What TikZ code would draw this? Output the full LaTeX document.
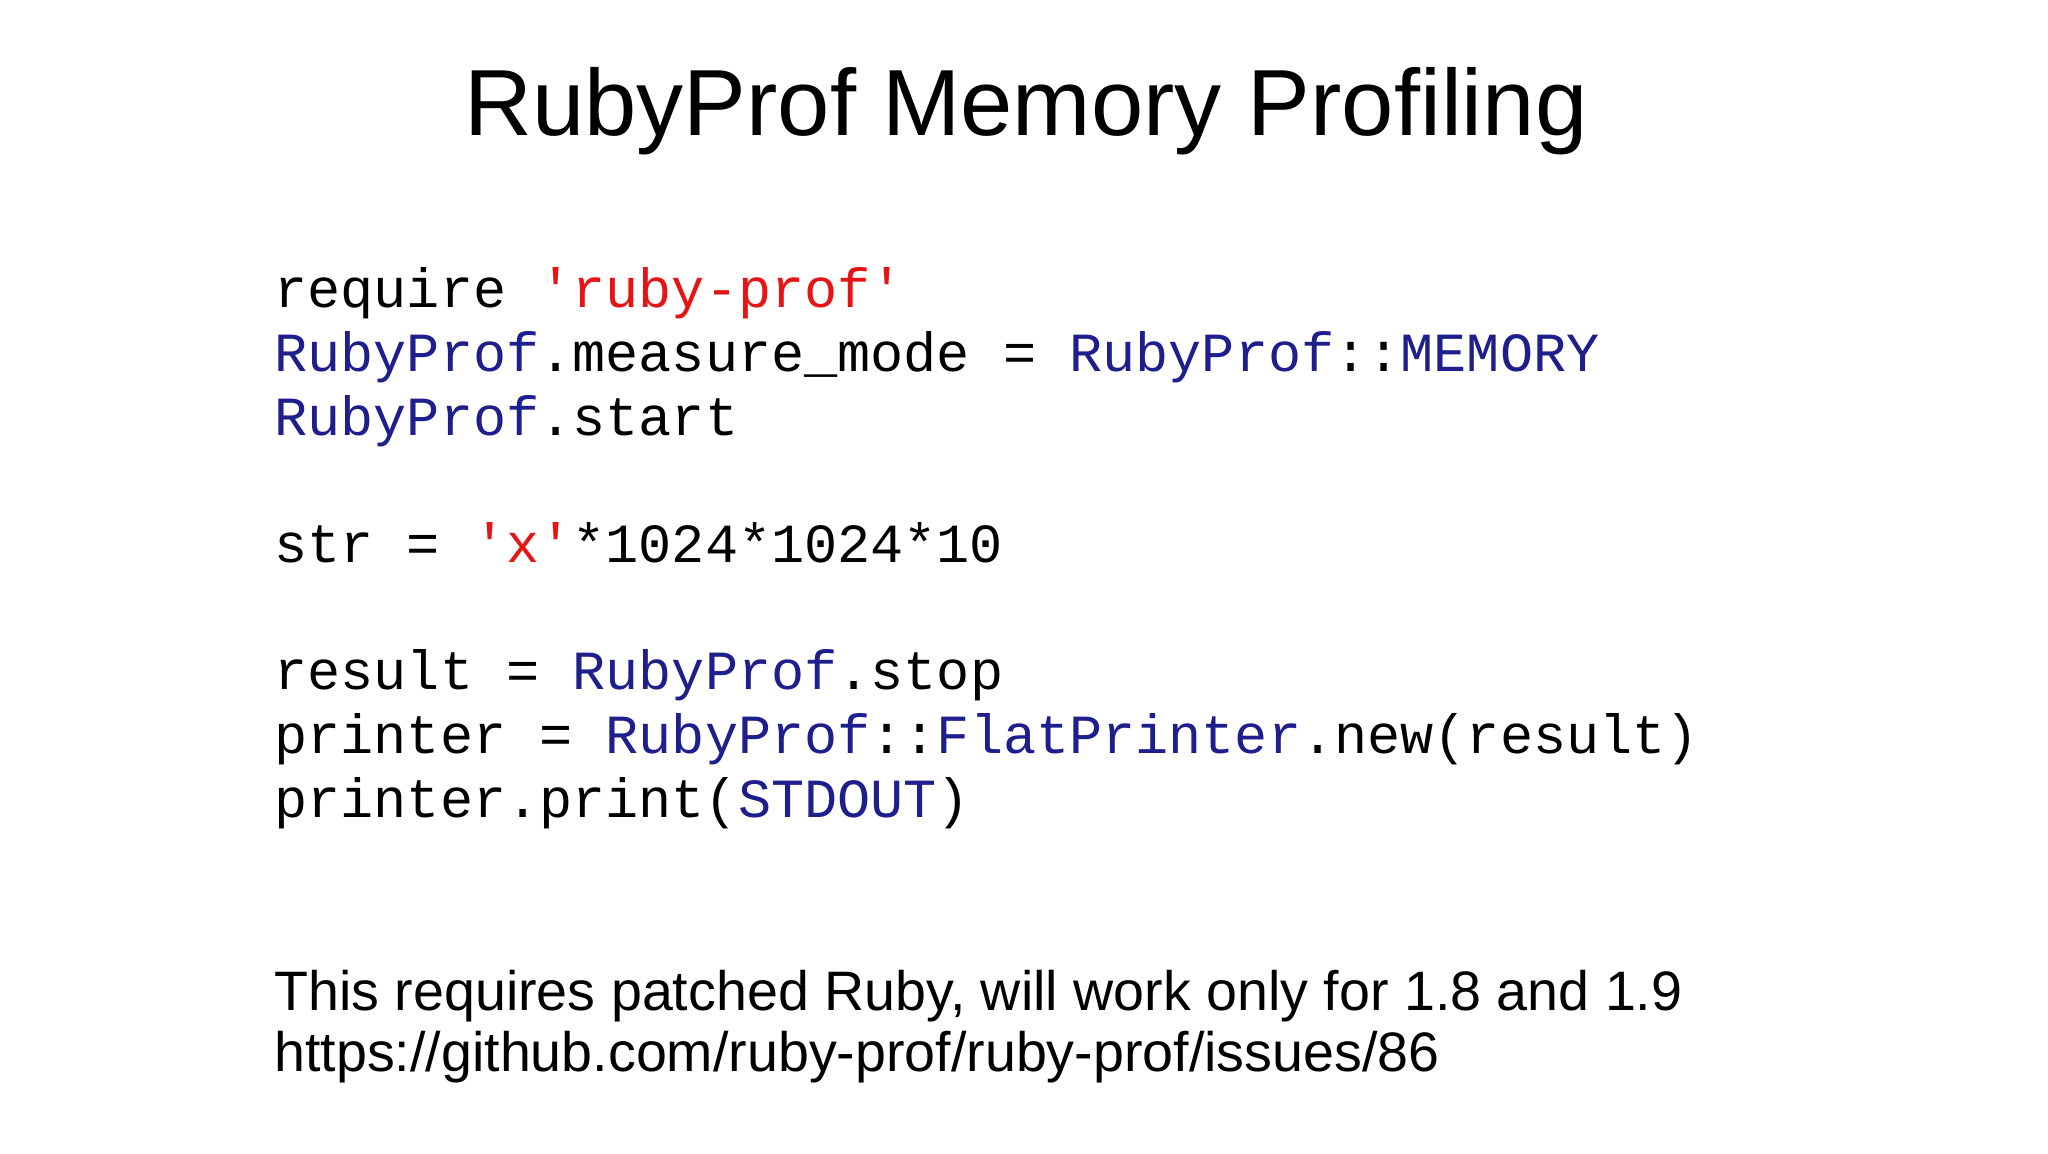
\documentclass[tikz,border=0pt]{standalone}
\usepackage{fontspec}
\setmainfont{Liberation Sans}
\newfontfamily\codefont{Liberation Mono}
\definecolor{cred}{RGB}{230,20,20}
\definecolor{cblue}{RGB}{30,30,140}
\newcommand{\R}[1]{\textcolor{cred}{#1}}
\newcommand{\B}[1]{\textcolor{cblue}{#1}}
\begin{document}
\begin{tikzpicture}[x=0.5pt,y=-0.5pt,
  code/.style={anchor=base west,inner sep=0pt,font=\codefont\fontsize{27.6pt}{30pt}\selectfont},
  body/.style={anchor=base west,inner sep=0pt,font=\fontsize{27.8pt}{32pt}\selectfont}]
\useasboundingbox[fill=white] (0,0) rectangle (2048,1154);
\node[anchor=base,inner sep=0pt,font=\fontsize{47pt}{50pt}\selectfont] (title) at (1026,136) {RubyProf Memory Profiling};
\node[code] (l1) at (274,308) {require \R{'ruby-prof'}};
\node[code] (l2) at (274,372) {\B{RubyProf}.measure\_mode = \B{RubyProf}::\B{MEMORY}};
\node[code] (l3) at (274,436) {\B{RubyProf}.start};
\node[code] (l4) at (274,562) {str = \R{'x'}*1024*1024*10};
\node[code] (l5) at (274,689) {result = \B{RubyProf}.stop};
\node[code] (l6) at (274,753) {printer = \B{RubyProf}::\B{FlatPrinter}.new(result)};
\node[code] (l7) at (274,817) {printer.print(\B{STDOUT})};
\node[body] (b1) at (274,1010) {This requires patched Ruby, will work only for 1.8 and 1.9};
\node[body] (b2) at (274,1071) {https://github.com/ruby-prof/ruby-prof/issues/86};
\end{tikzpicture}
\end{document}
